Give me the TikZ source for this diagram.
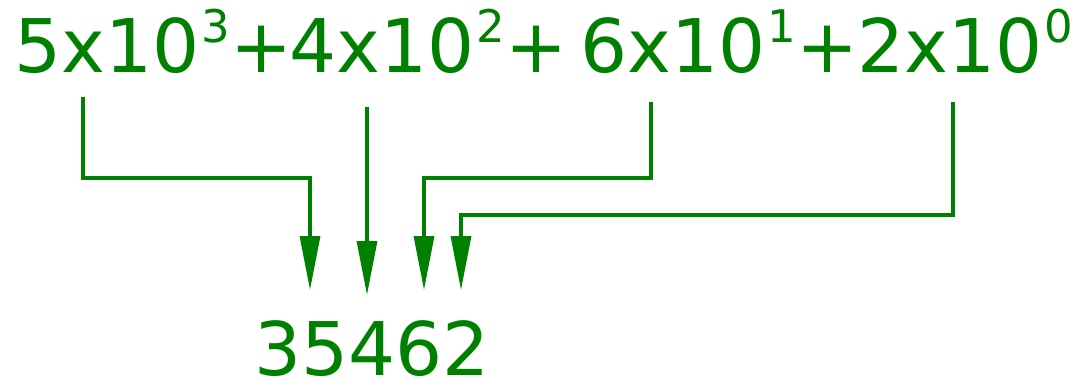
\documentclass[tikz,border=0pt]{standalone}
\usepackage{fontspec}
\setmainfont{DejaVu Sans}
\usetikzlibrary{arrows.meta}
\definecolor{tgreen}{RGB}{0,128,0}
\begin{document}
\begin{tikzpicture}[x=1pt,y=-1pt,
  txt/.style={inner sep=0pt,outer sep=0pt,text=tgreen,anchor=base west},
  big/.style={txt,font=\fontsize{74}{74}\selectfont},
  expo/.style={txt,font=\fontsize{45}{45}\selectfont},
  link/.style={draw=tgreen,line width=3.3pt,-{Triangle[length=54pt,width=20pt]}}]
  \useasboundingbox (0,0) rectangle (1079,384);
  % terms of the expanded sum
  \node[big]  (m3) at (14.3,72.5)  {5x10};
  \node[expo] (x3) at (201.5,42)   {3};
  \node[big]  (pa) at (230.4,72.5) {+};
  \node[big]  (m2) at (289.4,72.5) {4x10};
  \node[expo] (x2) at (476.7,42)   {2};
  \node[big]  (pb) at (505.4,72.5) {+};
  \node[big]  (m1) at (580.6,72.5) {6x10};
  \node[expo] (x1) at (767,42)     {1};
  \node[big]  (pc) at (796.4,72.5) {+};
  \node[big]  (m0) at (857.6,72.5) {2x10};
  \node[expo] (x0) at (1044,42)    {0};
  % the number they build
  \node[big,text depth=0pt] (num) at (254,375.5) {35462};
  % start of each connector under its term
  \coordinate (s3) at (83,97);
  \coordinate (s2) at (367,107);
  \coordinate (s1) at (651,102);
  \coordinate (s0) at (953,102);
  % tips above the number
  \coordinate (d3) at (310,290);
  \coordinate (d2) at (367,295);
  \coordinate (d1) at (424,290);
  \coordinate (d0) at (461,290);
  \draw[link] (s3) |- (d3 |- 0,178) -- (d3);
  \draw[link] (s2) -- (d2);
  \draw[link] (s1) |- (d1 |- 0,178) -- (d1);
  \draw[link] (s0) |- (d0 |- 0,215) -- (d0);
\end{tikzpicture}
\end{document}
